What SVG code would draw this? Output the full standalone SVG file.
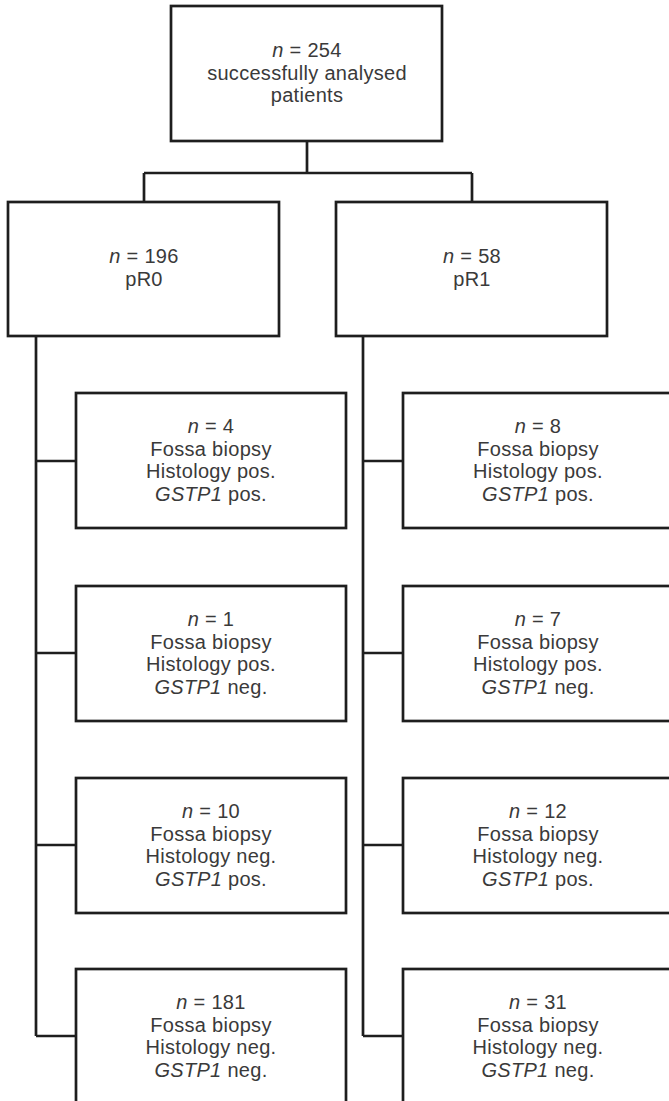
<svg xmlns="http://www.w3.org/2000/svg" width="669" height="1101" viewBox="0 0 669 1101">
<style>
.box{fill:#fff;stroke:#1e1e1e;stroke-width:2.7}
.ln{fill:none;stroke:#1e1e1e;stroke-width:2.7}
text{font-family:"Liberation Sans",Arial,sans-serif;font-size:20px;letter-spacing:0.3px;fill:#3a3a3a;text-anchor:middle}
.i{font-style:italic}
</style>
<rect width="669" height="1101" fill="#fff"/>
<g id="connectors">
<path class="ln" d="M307 141V173M144 173H472M144 173V202M472 173V202"/>
<path class="ln" d="M36 336V1036M36 461H76M36 653H76M36 845H76M36 1036H76"/>
<path class="ln" d="M363 336V1036M363 461H403M363 653H403M363 845H403M363 1036H403"/>
</g>
<g id="root">
<rect class="box" x="171" y="6" width="271" height="135"/>
<text x="307" y="57"><tspan class="i">n</tspan> = 254</text>
<text x="307" y="80">successfully analysed</text>
<text x="307" y="102">patients</text>
</g>
<g id="pR0">
<rect class="box" x="8" y="202" width="271" height="134"/>
<text x="144" y="263"><tspan class="i">n</tspan> = 196</text>
<text x="144" y="286">pR0</text>
</g>
<g id="pR1">
<rect class="box" x="336" y="202" width="271" height="134"/>
<text x="472" y="263"><tspan class="i">n</tspan> = 58</text>
<text x="472" y="286">pR1</text>
</g>
<g id="L1">
<rect class="box" x="76" y="393" width="270" height="135"/>
<text x="211" y="433"><tspan class="i">n</tspan> = 4</text>
<text x="211" y="456">Fossa biopsy</text>
<text x="211" y="478">Histology pos.</text>
<text x="211" y="501"><tspan class="i">GSTP1</tspan> pos.</text>
</g>
<g id="L2">
<rect class="box" x="76" y="586" width="270" height="135"/>
<text x="211" y="626"><tspan class="i">n</tspan> = 1</text>
<text x="211" y="649">Fossa biopsy</text>
<text x="211" y="671">Histology pos.</text>
<text x="211" y="694"><tspan class="i">GSTP1</tspan> neg.</text>
</g>
<g id="L3">
<rect class="box" x="76" y="778" width="270" height="135"/>
<text x="211" y="818"><tspan class="i">n</tspan> = 10</text>
<text x="211" y="841">Fossa biopsy</text>
<text x="211" y="863">Histology neg.</text>
<text x="211" y="886"><tspan class="i">GSTP1</tspan> pos.</text>
</g>
<g id="L4">
<rect class="box" x="76" y="969" width="270" height="135"/>
<text x="211" y="1009"><tspan class="i">n</tspan> = 181</text>
<text x="211" y="1032">Fossa biopsy</text>
<text x="211" y="1054">Histology neg.</text>
<text x="211" y="1077"><tspan class="i">GSTP1</tspan> neg.</text>
</g>
<g id="R1">
<rect class="box" x="403" y="393" width="271" height="135"/>
<text x="538" y="433"><tspan class="i">n</tspan> = 8</text>
<text x="538" y="456">Fossa biopsy</text>
<text x="538" y="478">Histology pos.</text>
<text x="538" y="501"><tspan class="i">GSTP1</tspan> pos.</text>
</g>
<g id="R2">
<rect class="box" x="403" y="586" width="271" height="135"/>
<text x="538" y="626"><tspan class="i">n</tspan> = 7</text>
<text x="538" y="649">Fossa biopsy</text>
<text x="538" y="671">Histology pos.</text>
<text x="538" y="694"><tspan class="i">GSTP1</tspan> neg.</text>
</g>
<g id="R3">
<rect class="box" x="403" y="778" width="271" height="135"/>
<text x="538" y="818"><tspan class="i">n</tspan> = 12</text>
<text x="538" y="841">Fossa biopsy</text>
<text x="538" y="863">Histology neg.</text>
<text x="538" y="886"><tspan class="i">GSTP1</tspan> pos.</text>
</g>
<g id="R4">
<rect class="box" x="403" y="969" width="271" height="135"/>
<text x="538" y="1009"><tspan class="i">n</tspan> = 31</text>
<text x="538" y="1032">Fossa biopsy</text>
<text x="538" y="1054">Histology neg.</text>
<text x="538" y="1077"><tspan class="i">GSTP1</tspan> neg.</text>
</g>
</svg>
